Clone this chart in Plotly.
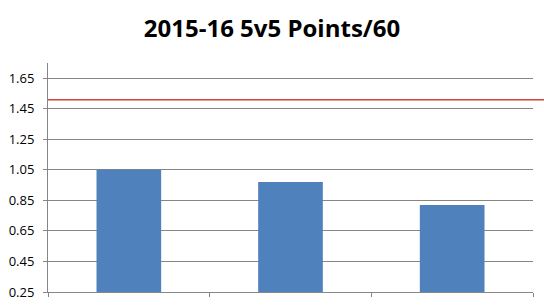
import plotly.graph_objects as go

categories = ["Player 1", "Player 2", "Player 3"]
points_per_60 = [1.05, 0.97, 0.82]
reference_value = 1.51
y_tick_values = [0.25, 0.45, 0.65, 0.85, 1.05, 1.25, 1.45, 1.65]
y_tick_labels = ["0.25", "0.45", "0.65", "0.85", "1.05", "1.25", "1.45", "1.65"]

fig = go.Figure()
fig.add_trace(go.Bar(
    x=categories, y=[v - 0.25 for v in points_per_60], base=0.25,
    marker=dict(color="#4F81BD", line=dict(width=0)),
    width=0.4, hoverinfo="skip",
))

fig.add_shape(type="line", xref="paper", yref="y", x0=0, x1=1.03,
              y0=reference_value, y1=reference_value,
              line=dict(color="#D8403C", width=1.5), layer="above")

fig.update_layout(
    width=544, height=306,
    margin=dict(l=47.5, r=11, t=63, b=14, autoexpand=False),
    paper_bgcolor="white", plot_bgcolor="white",
    showlegend=False,
    title=dict(text="<b>2015-16 5v5 Points/60</b>", x=0.5, xanchor="center",
               y=0.908, yanchor="middle",
               font=dict(family="Open Sans", size=24, color="#000000")),
    font=dict(family="Open Sans", size=13, color="#000000"),
    yaxis=dict(range=[0.25, 1.75], tickvals=y_tick_values, ticktext=y_tick_labels,
               showgrid=True, gridcolor="#868686", gridwidth=1.2,
               showline=True, linecolor="#868686", linewidth=1,
               ticks="outside", ticklen=4, tickcolor="#868686",
               zeroline=False, ticklabelstandoff=6, automargin=False),
    xaxis=dict(showline=True, linecolor="#868686", linewidth=1.2,
               showticklabels=False, ticks="outside", ticklen=4, tickcolor="#868686",
               tickson="boundaries", showgrid=False, zeroline=False, automargin=False),
)

fig.write_html("out.html")
